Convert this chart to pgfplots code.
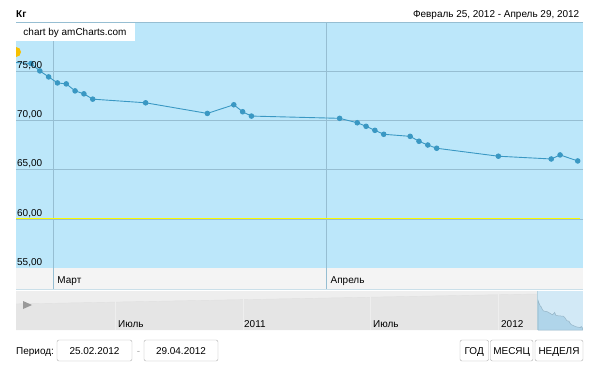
\documentclass[border=0pt]{standalone}
\usepackage{pgfplots}
\pgfplotsset{compat=1.18}
\usepackage{fontspec}
\setmainfont{Liberation Sans}
\definecolor{plotbg}{RGB}{188,231,250}
\definecolor{gridc}{RGB}{150,190,210}
\definecolor{linec}{RGB}{58,152,195}
\definecolor{stripc}{RGB}{244,244,244}
\definecolor{scrolllight}{RGB}{238,238,238}
\definecolor{scrolldark}{RGB}{229,229,229}
\definecolor{selc}{RGB}{210,233,246}
\definecolor{areac}{RGB}{176,213,234}
\definecolor{btnborder}{RGB}{175,175,175}
\definecolor{markyel}{RGB}{247,192,0}
\definecolor{guideyel}{RGB}{250,250,0}

\pgfplotstableread{
d v
-2 75.78
-1 75.03
0 74.42
1 73.81
2 73.71
3 73.00
4 72.70
5 72.16
11 71.79
18 70.71
21 71.59
22 70.88
23 70.44
33 70.21
35 69.76
36 69.40
37 68.99
38 68.59
41 68.38
42 67.88
43 67.50
44 67.17
51 66.36
57 66.08
58 66.49
60 65.88
}\weight

\begin{document}
\begin{tikzpicture}[font=\fontsize{10}{12}\selectfont]
\path[use as bounding box] (0,0) rectangle (600bp,-378bp);
% background strips
\begin{scope}[x=1bp,y=-1bp]
\fill[stripc] (16,268) rectangle (583,289);
\draw[gridc!50] (16,289) -- (583,289);
\fill[scrolllight] (16,291) rectangle (537,330);
\fill[scrolldark] (16,304) -- (537,294) -- (537,330) -- (16,330) -- cycle;
\draw[black!12] (16,304) -- (537,294);
\foreach \xx in {115,243,370,498} \draw[white!35!scrolldark] (\xx,291) -- (\xx,330);
\fill[selc] (537,291) rectangle (583,330);
\draw[gridc!70] (537,291) -- (537,330);
\draw[gridc] (53.3,268) -- (53.3,289);
\draw[gridc] (326.3,268) -- (326.3,289);
\end{scope}

\begin{axis}[at={(16bp,-268bp)}, anchor=south west, scale only axis,
  width=567bp, height=246bp,
  xmin=-3.7, xmax=60.6, ymin=55, ymax=80,
  axis background/.style={fill=plotbg},
  axis line style={draw=none}, tick style={draw=none},
  xtick={0.5,31.5}, ytick={60,65,70,75},
  xticklabels={}, yticklabels={},
  grid=major, grid style={gridc, line width=0.6pt}]
\addplot[guideyel, line width=0.7pt] coordinates {(-3.7,60) (60.3,60)};
\addplot[linec, line width=0.9pt] coordinates {(-4,75.9) (-2,75.78)};
\addplot[linec, line width=0.9pt, mark=*, mark size=2.3pt,
  mark options={fill=linec, draw=linec}] table[x=d, y=v] {\weight};
\draw[gridc] (rel axis cs:0,1) -- (rel axis cs:1,1);
\end{axis}

% mini chart in scroller selection
\begin{axis}[at={(537bp,-330bp)}, anchor=south west, scale only axis,
  width=46bp, height=38bp, hide axis,
  xmin=-3.7, xmax=60.6, ymin=65.2, ymax=79.0, clip=true]
\addplot[draw=areac!85!black, fill=areac, line width=0.5pt] table[x=d, y=v] {\weight} \closedcycle;
\end{axis}

\begin{scope}[x=1bp,y=-1bp]
% left edge marker
\fill[markyel] (16,57) arc[start angle=-90, end angle=90, radius=5bp];
% y labels
\node[anchor=base west, inner sep=0] at (17,68) {75,00};
\node[anchor=base west, inner sep=0] at (17,117.5) {70,00};
\node[anchor=base west, inner sep=0] at (17,166.5) {65,00};
\node[anchor=base west, inner sep=0] at (17,216) {60,00};
\node[anchor=base west, inner sep=0] at (17,265) {55,00};
% category labels
\node[anchor=base west, inner sep=0] at (57.3,283.5) {Март};
\node[anchor=base west, inner sep=0] at (330.5,283.5) {Апрель};
% scroller labels
\fill[black!40] (23,301) -- (32,305) -- (23,309) -- cycle;
\node[anchor=base west, inner sep=0] at (118,327.5) {Июль};
\node[anchor=base west, inner sep=0] at (244,327.5) {2011};
\node[anchor=base west, inner sep=0] at (373,327.5) {Июль};
\node[anchor=base west, inner sep=0] at (501,327.5) {2012};
% header
\node[anchor=base west, inner sep=0, font=\fontsize{10}{12}\selectfont\bfseries] at (16,17.5) {Кг};
\node[anchor=base east, inner sep=0] at (579.5,17) {Февраль 25, 2012 - Апрель 29, 2012};
% credit box
\fill[white] (16,22.7) rectangle (135,41);
\node[anchor=base west, inner sep=0] at (23.3,35.5) {chart by amCharts.com};
% bottom controls
\node[anchor=base west, inner sep=0] at (16,354) {Период:};
\draw[btnborder, fill=white, rounded corners=2bp] (57,340) rectangle (132,361);
\node[anchor=base, inner sep=0] at (94.5,354) {25.02.2012};
\node[anchor=base, inner sep=0, text=black!35] at (138.5,354) {-};
\draw[btnborder, fill=white, rounded corners=2bp] (144,340) rectangle (218,361);
\node[anchor=base, inner sep=0] at (181,354) {29.04.2012};
\draw[btnborder, fill=white, rounded corners=2bp] (460,340) rectangle (488.5,361);
\node[anchor=base, inner sep=0] at (474.2,354) {ГОД};
\draw[btnborder, fill=white, rounded corners=2bp] (490.5,340) rectangle (533,361);
\node[anchor=base, inner sep=0] at (511.7,354) {МЕСЯЦ};
\draw[btnborder, fill=white, rounded corners=2bp] (535,340) rectangle (583,361);
\node[anchor=base, inner sep=0] at (559,354) {НЕДЕЛЯ};
\end{scope}
\end{tikzpicture}
\end{document}
